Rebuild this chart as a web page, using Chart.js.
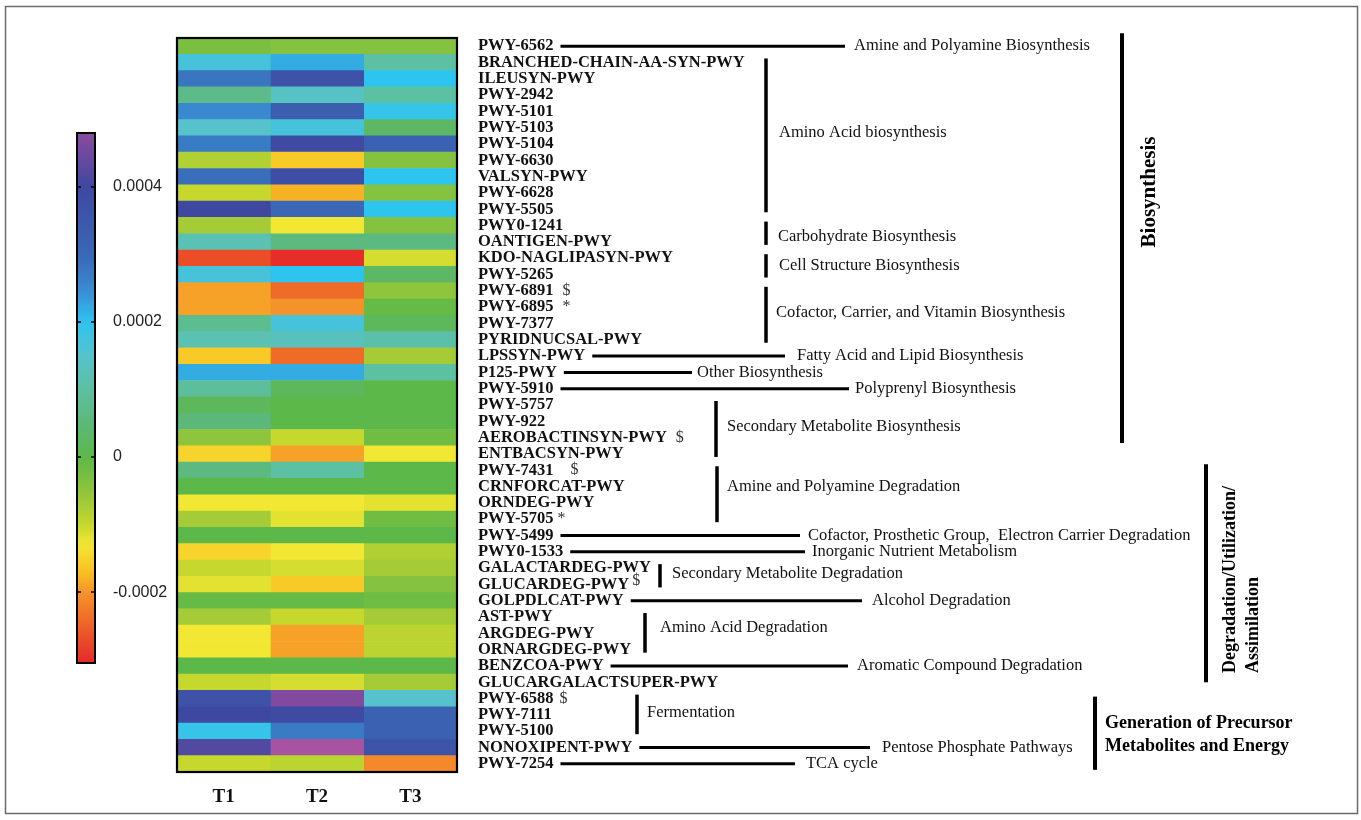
<!DOCTYPE html>
<html><head><meta charset="utf-8">
<script src="https://cdn.jsdelivr.net/npm/chart.js@4.4.1/dist/chart.umd.min.js"></script>
<style>
html,body{margin:0;padding:0;background:#fff;}
#wrap{position:relative;width:1361px;height:820px;overflow:hidden;}
#wrap canvas{position:absolute;left:0;top:0;}
</style></head><body>
<div id="wrap"><canvas id="main" width="1361" height="820"></canvas><canvas id="cbar" width="200" height="820"></canvas></div>
<script>
// ---------- data ----------
const columns = ['T1', 'T2', 'T3'];
const pathways = [
 'PWY-6562','BRANCHED-CHAIN-AA-SYN-PWY','ILEUSYN-PWY','PWY-2942','PWY-5101','PWY-5103','PWY-5104','PWY-6630',
 'VALSYN-PWY','PWY-6628','PWY-5505','PWY0-1241','OANTIGEN-PWY','KDO-NAGLIPASYN-PWY','PWY-5265','PWY-6891',
 'PWY-6895','PWY-7377','PYRIDNUCSAL-PWY','LPSSYN-PWY','P125-PWY','PWY-5910','PWY-5757','PWY-922',
 'AEROBACTINSYN-PWY','ENTBACSYN-PWY','PWY-7431','CRNFORCAT-PWY','ORNDEG-PWY','PWY-5705','PWY-5499','PWY0-1533',
 'GALACTARDEG-PWY','GLUCARDEG-PWY','GOLPDLCAT-PWY','AST-PWY','ARGDEG-PWY','ORNARGDEG-PWY','BENZCOA-PWY',
 'GLUCARGALACTSUPER-PWY','PWY-6588','PWY-7111','PWY-5100','NONOXIPENT-PWY','PWY-7254'
];
const valuesT1 = [
 -0.00003, 0.00017, 0.00028, 0.00007, 0.00025, 0.00015, 0.00027, -0.00008, 0.00029, -0.0001,
 0.0004, -0.00007, 0.00012, -0.00027, 0.00017, -0.00019, -0.00019, 0.00008, 0.00012, -0.00016,
 0.00022, 0.00009, 0.00002, 0.00005, -0.00005, -0.00015, 0.00006, 0, -0.00013, -0.00007,
 0, -0.00015, -0.0001, -0.00012, -0.00001, -0.00007, -0.00013, -0.00013, 0, -0.0001,
 0.00037, 0.0004, 0.00019, 0.00042, -0.0001
];
const valuesT2 = [
 -0.00004, 0.00022, 0.00037, 0.00014, 0.00033, 0.00017, 0.00039, -0.00016, 0.00038, -0.00018,
 0.0003, -0.00013, 0.00006, -0.0003, 0.0002, -0.00024, -0.0002, 0.00017, 0.00013, -0.00024,
 0.00022, 0.00002, 0, 0, -0.0001, -0.00019, 0.0001, 0, -0.00013, -0.00012,
 0, -0.00013, -0.00011, -0.00016, -0.00001, -0.0001, -0.00019, -0.00019, 0, -0.00011,
 0.00047, 0.00039, 0.00027, 0.0005, -0.00009
];
const valuesT3 = [
 -0.00004, 0.0001, 0.0002, 0.0001, 0.00019, 0.00003, 0.00032, -0.00004, 0.0002, -0.00004,
 0.0002, -0.00004, 0.00006, -0.00011, 0.00003, -0.00005, -0.00001, 0.00002, 0.00011, -0.00007,
 0.0001, 0, 0, 0, -0.00002, -0.00013, 0, 0, -0.00012, -0.00002,
 0, -0.00008, -0.00007, -0.00004, -0.00002, -0.00007, -0.00009, -0.00009, 0, -0.00007,
 0.00015, 0.00032, 0.00032, 0.00036, -0.00021
];
const colorbarTicks = [0.0004, 0.0002, 0, -0.0002];
const colorbarMin = -0.000305, colorbarMax = 0.00048;

// ---------- annotation text ----------
const connectors = [
 {row:0, endX:845, textX:854, text:'Amine and Polyamine Biosynthesis'},
 {row:19, endX:785, textX:797, text:'Fatty Acid and Lipid Biosynthesis'},
 {row:20, endX:692, textX:697, text:'Other Biosynthesis'},
 {row:21, endX:849, textX:855, text:'Polyprenyl Biosynthesis'},
 {row:30, endX:800, textX:808, text:'Cofactor, Prosthetic Group,  Electron Carrier Degradation'},
 {row:31, endX:805, textX:812, text:'Inorganic Nutrient Metabolism'},
 {row:34, endX:862, textX:872, text:'Alcohol Degradation'},
 {row:38, endX:848, textX:857, text:'Aromatic Compound Degradation'},
 {row:43, endX:870, textX:882, text:'Pentose Phosphate Pathways'},
 {row:44, endX:795, textX:806, text:'TCA cycle'}
];
const brackets = [
 {from:1,to:10,x:766,textX:779,text:'Amino Acid biosynthesis',dy:-3},
 {from:11,to:12,x:766,textX:778,text:'Carbohydrate Biosynthesis',dy:3},
 {from:13,to:14,x:766,textX:779,text:'Cell Structure Biosynthesis',dy:0},
 {from:15,to:18,x:766,textX:776,text:'Cofactor, Carrier, and Vitamin Biosynthesis',dy:-2},
 {from:22,to:25,x:716,textX:727,text:'Secondary Metabolite Biosynthesis',dy:-2},
 {from:26,to:29,x:717,textX:727,text:'Amine and Polyamine Degradation',dy:-8},
 {from:32,to:33,x:660,textX:672,text:'Secondary Metabolite Degradation',dy:-2},
 {from:35,to:37,x:645,textX:660,text:'Amino Acid Degradation',dy:-5},
 {from:40,to:42,x:637,textX:647,text:'Fermentation',dy:-2}
];
const markers = [
 {row:15,sym:'$',gap:9,dy:0},{row:16,sym:'*',gap:9,dy:0},{row:24,sym:'$',gap:9,dy:0},
 {row:26,sym:'$',gap:17,dy:0},{row:29,sym:'*',gap:4,dy:0},{row:33,sym:'$',gap:3,dy:-4},
 {row:40,sym:'$',gap:6,dy:0}
];

// ---------- colour map ----------
const cmap = [
 [-0.000305,'#e5282a'],[-0.00025,'#ee6228'],[-0.0002,'#f4932a'],[-0.00017,'#f9c023'],[-0.00013,'#f2e733'],
 [-0.0001,'#c6d82e'],[-0.00005,'#8fc43d'],[0,'#5cb848'],[0.00005,'#5cb878'],[0.0001,'#5cc0a2'],
 [0.00015,'#56c2cc'],[0.0002,'#2ec4f0'],[0.00025,'#3a88d0'],[0.0003,'#3a68b6'],[0.0004,'#3f48a0'],
 [0.00048,'#8c4a9e'],[0.0005,'#a852a2']
];
function hex2rgb(h){return [parseInt(h.slice(1,3),16),parseInt(h.slice(3,5),16),parseInt(h.slice(5,7),16)];}
function colorFor(v){
 if (v <= cmap[0][0]) return cmap[0][1];
 for (let i=1;i<cmap.length;i++){
  if (v <= cmap[i][0]){
   const a=hex2rgb(cmap[i-1][1]), b=hex2rgb(cmap[i][1]);
   const t=(v-cmap[i-1][0])/(cmap[i][0]-cmap[i-1][0]);
   const c=a.map((x,k)=>Math.round(x+(b[k]-x)*t));
   return 'rgb('+c.join(',')+')';
  }
 }
 return cmap[cmap.length-1][1];
}

const serif = '"Liberation Serif", "Times New Roman", serif';
const sans = '"Liberation Sans", Arial, sans-serif';
const allValues = [valuesT1, valuesT2, valuesT3];

// ---------- decoration plugin ----------
const decor = {
 id:'decor',
 afterDraw(chart){
  const ctx = chart.ctx, ca = chart.chartArea, ys = chart.scales.y;
  ctx.save();
  // outer frame
  ctx.strokeStyle = '#6a6a6a'; ctx.lineWidth = 1.5;
  ctx.strokeRect(5.5, 6.5, 1352, 807);
  // heatmap border
  ctx.strokeStyle = '#000'; ctx.lineWidth = 2.2;
  ctx.strokeRect(ca.left, ca.top, ca.right-ca.left, ca.bottom-ca.top);
  const labelX = ys.left + ys.options.ticks.padding;
  const labelFont = 'bold 16.5px ' + serif;
  const rowY = i => ys.getPixelForValue(i);
  const labelEnd = i => { ctx.font = labelFont; return labelX + ctx.measureText(pathways[i]).width; };
  // markers
  ctx.fillStyle = '#333'; ctx.textBaseline = 'middle'; ctx.textAlign = 'left';
  markers.forEach(m => { const e = labelEnd(m.row); ctx.font = '16px ' + serif; ctx.fillText(m.sym, e + m.gap, rowY(m.row) + m.dy); });
  // connectors
  ctx.strokeStyle = '#000'; ctx.fillStyle = '#111';
  connectors.forEach(c => {
   const y = rowY(c.row), s = labelEnd(c.row) + 7;
   ctx.lineWidth = 3; ctx.beginPath(); ctx.moveTo(s, y); ctx.lineTo(c.endX, y); ctx.stroke();
   ctx.font = '16.5px ' + serif; ctx.fillText(c.text, c.textX, y);
  });
  // brackets
  brackets.forEach(b => {
   const y0 = rowY(b.from) - 4, y1 = rowY(b.to) + 3;
   ctx.lineWidth = 3.5; ctx.beginPath(); ctx.moveTo(b.x, y0); ctx.lineTo(b.x, y1); ctx.stroke();
   ctx.font = '16.5px ' + serif; ctx.fillText(b.text, b.textX, (y0+y1)/2 + b.dy);
  });
  // major groups
  ctx.lineWidth = 4;
  ctx.beginPath(); ctx.moveTo(1122, rowY(0)-13); ctx.lineTo(1122, rowY(25)-11); ctx.stroke();
  ctx.beginPath(); ctx.moveTo(1206, rowY(26)-6); ctx.lineTo(1206, rowY(39)); ctx.stroke();
  ctx.beginPath(); ctx.moveTo(1095, rowY(40)-2); ctx.lineTo(1095, rowY(44)+6); ctx.stroke();
  ctx.fillStyle = '#000';
  ctx.save(); ctx.translate(1150, 192); ctx.rotate(-Math.PI/2); ctx.textAlign='center';
  ctx.font = 'bold 21px ' + serif; ctx.fillText('Biosynthesis', 0, 0); ctx.restore();
  ctx.font = 'bold 18px ' + serif;
  ctx.save(); ctx.translate(1230, 673); ctx.rotate(-Math.PI/2); ctx.textAlign='left';
  ctx.fillText('Degradation/Utilization/', 0, 0); ctx.restore();
  ctx.save(); ctx.translate(1253, 673); ctx.rotate(-Math.PI/2); ctx.textAlign='left';
  ctx.fillText('Assimilation', 0, 0); ctx.restore();
  ctx.textAlign='left';
  ctx.fillText('Generation of Precursor', 1105, 723);
  ctx.fillText('Metabolites and Energy', 1105, 746);
  ctx.restore();
 }
};

new Chart(document.getElementById('main'), {
 type:'bar',
 data:{
  labels: pathways,
  datasets: columns.map((c,k) => ({
   label:c, data: pathways.map(() => 1), stack:'heat',
   backgroundColor: allValues[k].map(colorFor),
   borderWidth:0, barPercentage:1, categoryPercentage:1
  }))
 },
 options:{
  indexAxis:'y', responsive:false, animation:false, events:[],
  layout:{padding:{left:177, top:38, right:0, bottom:0}},
  plugins:{legend:{display:false}, tooltip:{enabled:false}},
  scales:{
   x:{type:'linear', min:0, max:columns.length, stacked:true, position:'bottom',
      grid:{display:false, drawTicks:false}, border:{display:false},
      afterBuildTicks: s => { s.ticks = columns.map((_,i) => ({value:i+0.5})); },
      afterFit: s => { s.height = 820 - 772; },
      ticks:{callback: v => columns[Math.floor(v)], autoSkip:false, maxRotation:0, padding:14,
             color:'#111', font:{family:serif, weight:'bold', size:19}}},
   y:{type:'category', position:'right', stacked:true, offset:true,
      grid:{display:false, drawTicks:false}, border:{display:false},
      afterFit: s => { s.width = 1361 - 457; },
      ticks:{autoSkip:false, padding:21, color:'#111', font:{family:serif, weight:'bold', size:16.5}}}
  }
 },
 plugins:[decor]
});

// ---------- colour bar ----------
const cbarDecor = {
 id:'cbarDecor',
 afterDatasetsDraw(chart){
  const ctx = chart.ctx, ca = chart.chartArea, ys = chart.scales.y;
  ctx.save();
  ctx.strokeStyle = '#000'; ctx.lineWidth = 2;
  ctx.strokeRect(ca.left, ca.top, ca.right-ca.left, ca.bottom-ca.top);
  ctx.lineWidth = 1.5;
  colorbarTicks.forEach(v => {
   const y = ys.getPixelForValue(v);
   ctx.beginPath(); ctx.moveTo(ca.left, y); ctx.lineTo(ca.left+4, y);
   ctx.moveTo(ca.right-4, y); ctx.lineTo(ca.right, y); ctx.stroke();
  });
  ctx.restore();
 }
};
new Chart(document.getElementById('cbar'), {
 type:'bar',
 data:{labels:['scale'], datasets:[{data:[[colorbarMin, colorbarMax]], borderWidth:0, barPercentage:1, categoryPercentage:1,
  backgroundColor: (c) => {
   const ch = c.chart, ys = ch.scales.y;
   if (!ch.chartArea || !ys) return '#5cb848';
   const y0 = ys.getPixelForValue(colorbarMin), y1 = ys.getPixelForValue(colorbarMax);
   const g = ch.ctx.createLinearGradient(0, y0, 0, y1);
   const n = 60;
   for (let i=0;i<=n;i++){ const v = colorbarMin + (colorbarMax-colorbarMin)*i/n; g.addColorStop(i/n, colorFor(v)); }
   return g;
  }}]},
 options:{
  responsive:false, animation:false, events:[],
  layout:{padding:{left:77, top:133, right:0, bottom:157}},
  plugins:{legend:{display:false}, tooltip:{enabled:false}},
  scales:{
   x:{display:false},
   y:{type:'linear', position:'right', min:colorbarMin, max:colorbarMax,
      grid:{display:false, drawTicks:false}, border:{display:false},
      afterBuildTicks: s => { s.ticks = colorbarTicks.map(v => ({value:v})); },
      afterFit: s => { s.width = 200 - 95; },
      ticks:{callback: v => (v === 0 ? '0' : String(v)), padding:18, color:'#222', font:{family:sans, size:16}}}
  }
 },
 plugins:[cbarDecor]
});
</script>
</body></html>
